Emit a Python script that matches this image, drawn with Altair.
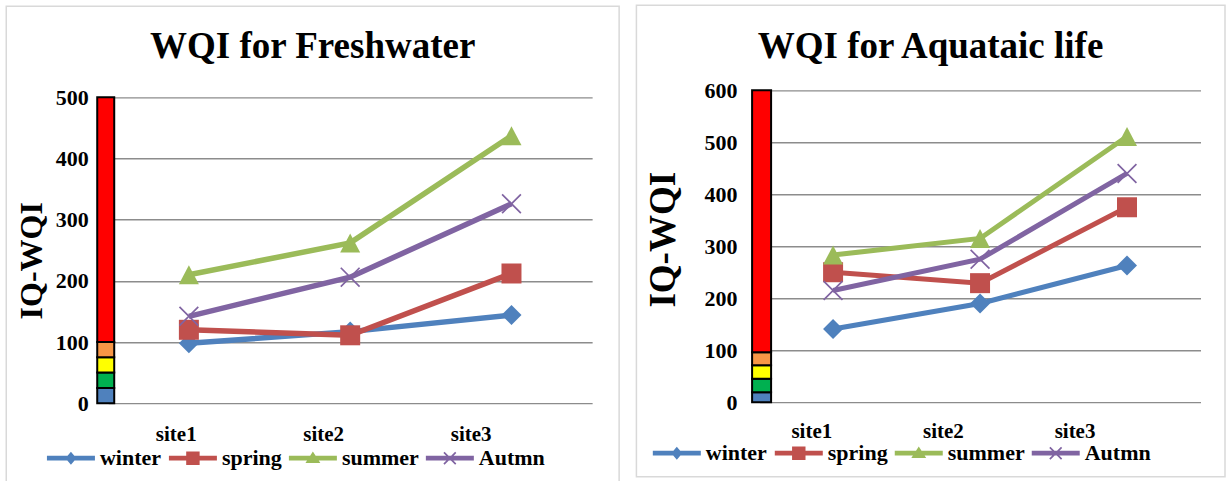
import altair as alt
import pandas as pd

# ---------------- data ----------------
sites = ["site1", "site2", "site3"]
seasons = ["winter", "spring", "summer", "Autmn"]
season_colors = ["#4F81BD", "#C0504D", "#9BBB59", "#8064A2"]

titles = ["WQI for Freshwater", "WQI for Aquataic life"]
y_title = "IQ-WQI"

fresh_winter = [98, 117, 144]
fresh_spring = [120, 111, 212]
fresh_summer = [210, 262, 437]
fresh_autmn = [142, 206, 326]

aqua_winter = [141, 190, 263]
aqua_spring = [250, 229, 375]
aqua_summer = [283, 315, 511]
aqua_autmn = [215, 275, 440]

fresh_ticks = [0, 100, 200, 300, 400, 500]
aqua_ticks = [0, 100, 200, 300, 400, 500, 600]

class_colors = ["#4F81BD", "#00B050", "#FFFF00", "#F79646", "#FF0000"]
fresh_class_bounds = [0, 25, 50, 75, 100, 500]
aqua_class_bounds = [0, 19, 45, 71, 96, 600]

# ---------------- styles ----------------
FONT = "Liberation Serif"

marker_paths = [
    "M0,-1L1,0L0,1L-1,0Z",
    "M-1,-1H1V1H-1Z",
    "M0,-0.95L1,0.95L-1,0.95Z",
    "M-1,-0.88L-0.88,-1L1,0.88L0.88,1Z M0.88,-1L1,-0.88L-0.88,1L-1,0.88Z",
]
BAR = "M-1,-0.1H1V0.1H-1Z "
legend_paths = [
    BAR + "M0,-0.27L0.23,0L0,0.27L-0.23,0Z",
    BAR + "M-0.28,-0.28H0.28V0.28H-0.28Z",
    BAR + "M0,-0.28L0.31,0.2L-0.31,0.2Z",
    BAR + "M-0.27,-0.22L-0.22,-0.27L0.27,0.22L0.22,0.27Z M0.22,-0.27L0.27,-0.22L-0.22,0.27L-0.27,0.22Z",
]


def long_table(series):
    rows = []
    for s_i, (name, vals) in enumerate(zip(seasons, series)):
        for site, v in zip(sites, vals):
            rows.append({"site": site, "season": name, "value": v,
                         "color": season_colors[s_i], "marker": marker_paths[s_i]})
    return pd.DataFrame(rows)


def panel(title, series, ticks, ymax, bounds, L):
    W, H = L["W"], L["H"]
    yscale = alt.Scale(domain=[0, ymax], nice=False, zero=True)
    yaxis = alt.Axis(
        values=ticks, grid=True, gridColor="#8c8c8c", gridWidth=1.3,
        domain=False, ticks=False, labelFlush=False,
        labelFont=FONT, labelFontWeight="bold", labelFontSize=22, labelColor="black",
        labelPadding=L["lp"],
        title=y_title, titleFont=FONT, titleFontWeight="bold", titleFontSize=L["yts"],
        titleColor="black", titleX=L["ytx"], titleY=L["yty"], titleAngle=270,
        titleAlign="center", titleBaseline="middle",
    )
    df = long_table(series)
    xsc = alt.Scale(type="point", domain=sites, padding=0.5)

    frame = alt.Chart(pd.DataFrame({"k": [0]})).mark_rect(
        filled=False, stroke="#d9d9d9", strokeWidth=1.5
    ).encode(x=alt.value(L["fx0"]), x2=alt.value(L["fx1"]),
             y=alt.value(L["fy0"]), y2=alt.value(L["fy1"]))

    cls = pd.DataFrame({"lo": bounds[:-1], "hi": bounds[1:], "col": class_colors})
    bar = alt.Chart(cls).mark_rect(stroke="black", strokeWidth=2).encode(
        x=alt.value(L["bx0"]), x2=alt.value(L["bx1"]),
        y=alt.Y("lo:Q", scale=yscale, axis=yaxis), y2="hi:Q",
        color=alt.Color("col:N", scale=None),
    )

    lines = alt.Chart(df).mark_line(strokeWidth=L["lw"]).encode(
        x=alt.X("site:N", scale=xsc, axis=None, sort=sites),
        y=alt.Y("value:Q", scale=yscale, axis=yaxis),
        color=alt.Color("color:N", scale=None),
        detail="season:N",
    )
    points = alt.Chart(df).mark_point(filled=True, opacity=1, size=400, strokeWidth=0).encode(
        x=alt.X("site:N", scale=xsc, axis=None, sort=sites),
        y=alt.Y("value:Q", scale=yscale, axis=yaxis),
        color=alt.Color("color:N", scale=None),
        shape=alt.Shape("marker:N", scale=None),
    )

    labels = alt.Chart(pd.DataFrame({"site": sites, "idx": [1, 2, 3]})).mark_text(
        font=FONT, fontWeight="bold", fontSize=21, baseline="alphabetic", align="center", color="black"
    ).encode(
        x=alt.X("idx:Q", scale=alt.Scale(domain=L["lab_dom"], nice=False, zero=False), axis=None),
        y=alt.value(L["lab_y"]),
        text="site:N",
    )

    ttl = alt.Chart(pd.DataFrame({"t": [title]})).mark_text(
        font=FONT, fontWeight="bold", fontSize=37, baseline="alphabetic", align="center", color="black"
    ).encode(x=alt.value(L["tx"]), y=alt.value(L["ty"]), text="t:N")

    leg = alt.Legend(
        title=None, orient="none", legendX=L["lgx"], legendY=L["lgy"], direction="horizontal",
        symbolSize=2304, symbolStrokeWidth=0, symbolOpacity=1,
        labelFont=FONT, labelFontSize=22, labelFontWeight="bold", labelColor="black",
        labelOffset=5, columnPadding=7, padding=0,
    )
    legend_layer = alt.Chart(pd.DataFrame({"season": seasons})).transform_filter("false").mark_point(
        filled=True, opacity=1, strokeWidth=0
    ).encode(
        color=alt.Color("season:N", scale=alt.Scale(domain=seasons, range=season_colors), legend=leg),
        shape=alt.Shape("season:N", scale=alt.Scale(domain=seasons, range=legend_paths), legend=leg),
    )

    return alt.layer(frame, bar, lines, points, labels, ttl, legend_layer).resolve_scale(
        x="independent"
    ).properties(width=W, height=H)


left_layout = dict(
    W=484, H=313, lp=20, yts=32, ytx=-76.5, yty=170,
    fx0=-102, fx1=511, fy0=-84, fy1=396,
    bx0=-11, bx1=6, lw=5.5,
    lab_dom=[0.539, 3.820], lab_y=351,
    tx=204.5, ty=-32, lgx=-61.3, lgy=344,
)
right_layout = dict(
    W=441, H=312, lp=22.5, yts=37, ytx=-96, yty=149,
    fx0=-123.2, fx1=465.5, fy0=-85, fy1=386.5,
    bx0=-7.5, bx1=11.5, lw=5,
    lab_dom=[0.6035, 3.9533], lab_y=348,
    tx=171, ty=-32, lgx=-106.8, lgy=339,
)

left = panel(titles[0], [fresh_winter, fresh_spring, fresh_summer, fresh_autmn],
             fresh_ticks, 511.4, fresh_class_bounds, left_layout)
right = panel(titles[1], [aqua_winter, aqua_spring, aqua_summer, aqua_autmn],
              aqua_ticks, 600, aqua_class_bounds, right_layout)

chart = alt.hconcat(left, right, spacing=167.5, bounds="flush").resolve_scale(
    x="independent", y="independent", color="independent", shape="independent"
).resolve_legend(color="independent", shape="independent").configure_view(
    strokeWidth=0
).properties(padding={"left": 5.25, "top": 4.25, "right": 0, "bottom": 0}, background="white")

chart.save("out.html", embed_options={"renderer": "svg", "actions": False})
